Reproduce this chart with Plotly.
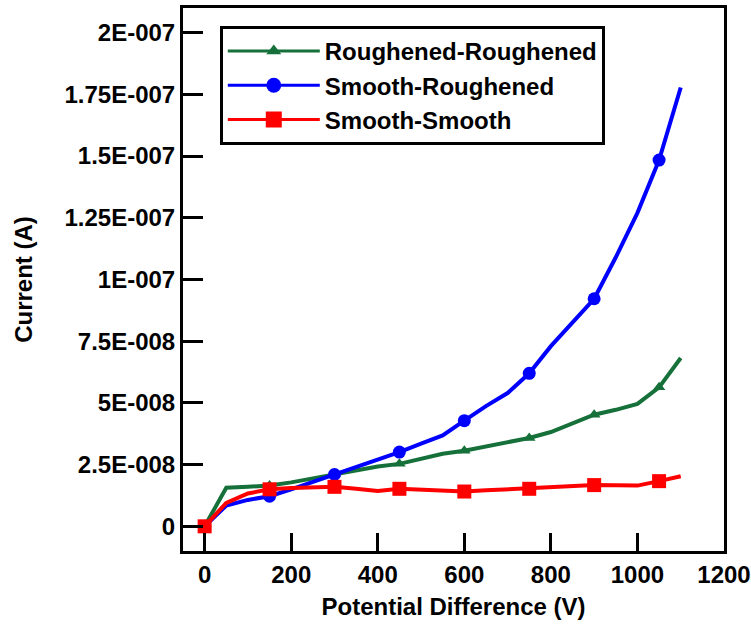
import plotly.graph_objects as go

# Applied voltage (V)
voltage = [0, 50, 100, 150, 200, 250, 300, 350, 400, 450, 500, 550,
           600, 650, 700, 750, 800, 850, 900, 950, 1000, 1050, 1100]

# Measured current in units of 1E-008 A
rough_rough = [0, 1.56, 1.60, 1.65, 1.78, 1.95, 2.12, 2.27, 2.42, 2.53, 2.72, 2.94,
               3.06, 3.23, 3.40, 3.58, 3.82, 4.15, 4.52, 4.72, 4.96, 5.63, 6.82]
smooth_rough = [0, 0.84, 1.07, 1.22, 1.50, 1.80, 2.10, 2.40, 2.70, 3.01, 3.35, 3.68,
                4.28, 4.87, 5.40, 6.20, 7.30, 8.25, 9.22, 10.90, 12.70, 14.84, 17.78]
smooth_smooth = [0, 0.95, 1.33, 1.50, 1.55, 1.57, 1.60, 1.52, 1.43, 1.52, 1.48, 1.45,
                 1.41, 1.46, 1.50, 1.52, 1.55, 1.60, 1.67, 1.66, 1.65, 1.83, 2.03]

series_names = ["Roughened-Roughened", "Smooth-Roughened", "Smooth-Smooth"]
series_colors = ["#16703a", "#0000ff", "#ff0000"]
series_symbols = ["triangle-up", "circle", "square"]
series_sizes = [11, 13, 14]

y_tick_vals = [0, 2.5e-8, 5e-8, 7.5e-8, 1e-7, 1.25e-7, 1.5e-7, 1.75e-7, 2e-7]
y_tick_text = ["0", "2.5E-008", "5E-008", "7.5E-008", "1E-007",
               "1.25E-007", "1.5E-007", "1.75E-007", "2E-007"]
x_tick_vals = [0, 200, 400, 600, 800, 1000, 1200]

FONT = "Liberation Sans, Arial, sans-serif"
MARK_STEP = 3  # a symbol on every third measurement

fig = go.Figure()
all_series = [rough_rough, smooth_rough, smooth_smooth]
for name, vals, color, sym, size in zip(series_names, all_series, series_colors,
                                        series_symbols, series_sizes):
    amps = [v * 1e-8 for v in vals]
    # full measured curve
    fig.add_trace(go.Scatter(x=voltage, y=amps, mode="lines", showlegend=False,
                             line=dict(color=color, width=4), hoverinfo="x+y"))
    # symbols on a subset of points
    fig.add_trace(go.Scatter(x=voltage[::MARK_STEP], y=amps[::MARK_STEP], mode="markers",
                             showlegend=False,
                             marker=dict(color=color, symbol=sym, size=size)))
    # legend key
    fig.add_trace(go.Scatter(x=[None], y=[None], mode="lines+markers", name=name,
                             line=dict(color=color, width=3),
                             marker=dict(color=color, symbol=sym, size=size + 2)))

axis_common = dict(showline=True, linecolor="black", linewidth=3, mirror=True,
                   ticks="inside", tickcolor="black", tickwidth=3,
                   showgrid=False, zeroline=False, automargin=False,
                   tickfont=dict(family=FONT, size=24, color="black", weight="bold"))
title_font = dict(family=FONT, size=24, color="black", weight="bold")

fig.update_xaxes(range=[-50, 1200], tickvals=x_tick_vals, ticklen=18,
                 title=dict(text="Potential Difference (V)", standoff=12, font=title_font),
                 **axis_common)
fig.update_yaxes(range=[-1e-8, 2.1e-7], tickvals=y_tick_vals, ticktext=y_tick_text,
                 ticklen=20,
                 title=dict(text="Current (A)", standoff=26, font=title_font),
                 **axis_common)

fig.update_layout(
    width=751, height=637,
    margin=dict(l=183, r=27, t=8, b=86),
    paper_bgcolor="white", plot_bgcolor="white",
    font=dict(family=FONT, color="black"),
    legend=dict(x=0.068, y=0.967, xanchor="left", yanchor="top",
                bgcolor="white", bordercolor="black", borderwidth=3,
                font=dict(family=FONT, size=24, color="black", weight="bold"),
                tracegroupgap=0, itemwidth=92),
)

fig.write_html("out.html")
